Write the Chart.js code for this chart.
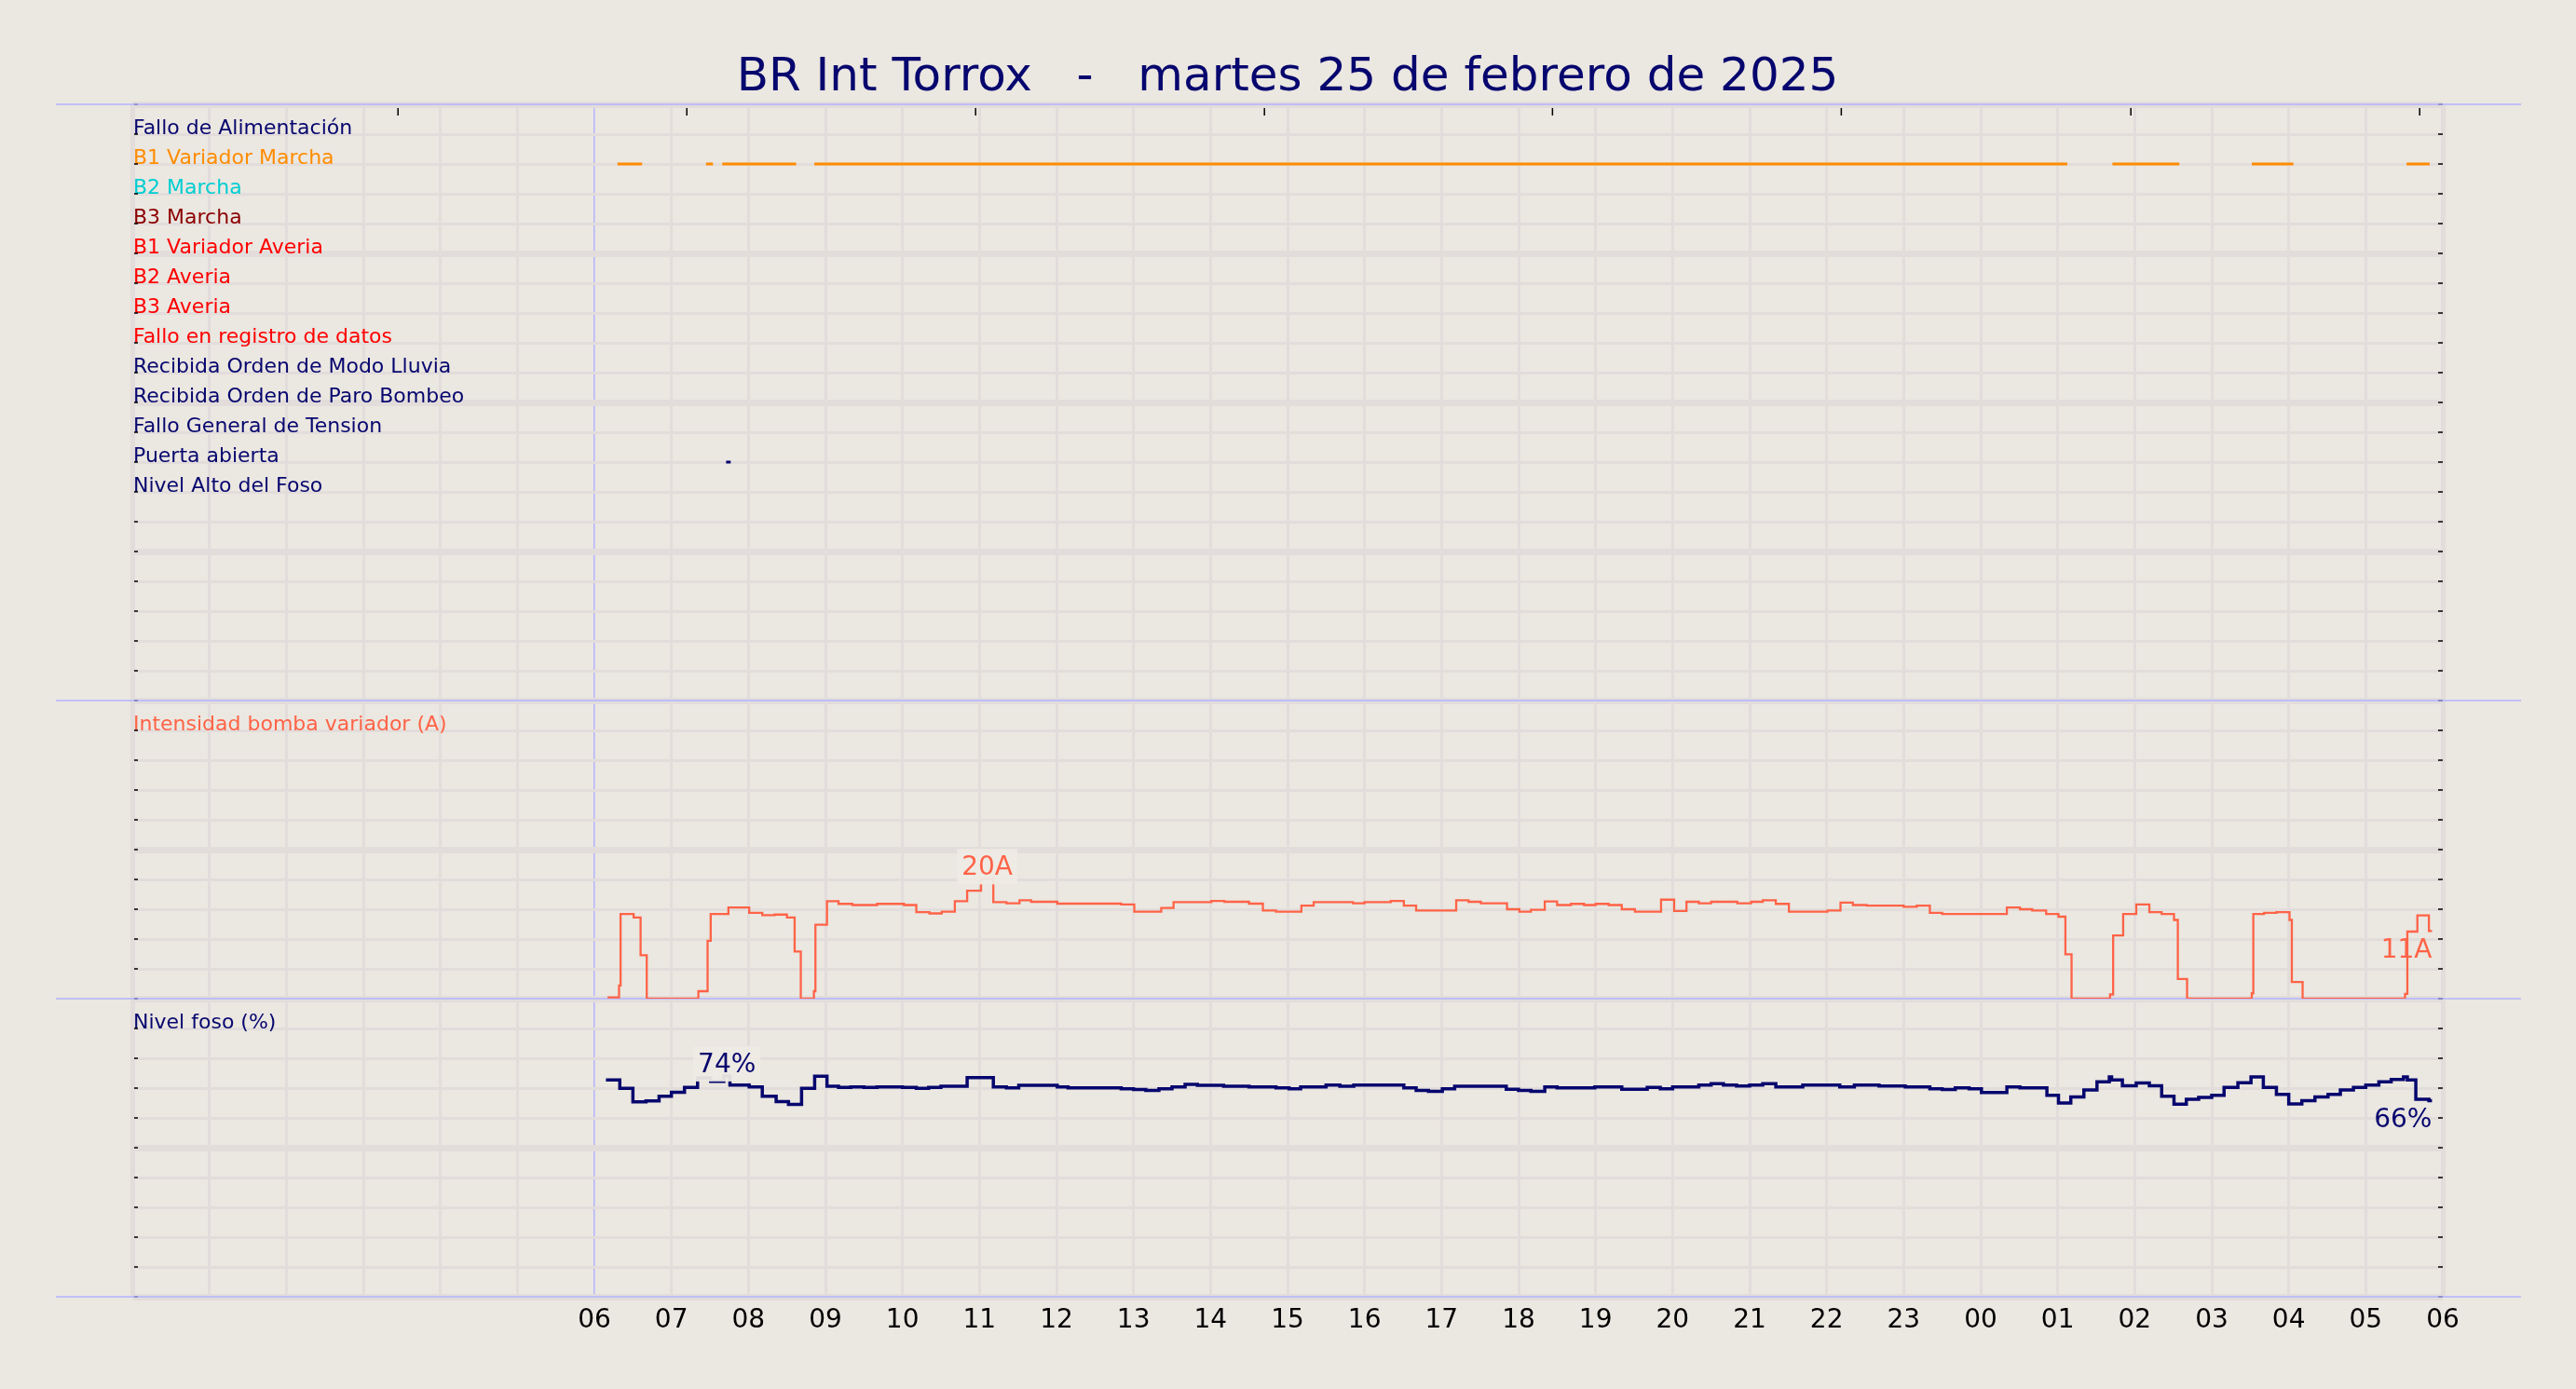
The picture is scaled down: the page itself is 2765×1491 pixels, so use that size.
<!DOCTYPE html>
<html>
<head>
<meta charset="utf-8">
<title>BR Int Torrox</title>
<script src="https://cdn.jsdelivr.net/npm/chart.js@4.4.1/dist/chart.umd.min.js"></script>
<style>
  html, body { margin: 0; padding: 0; background: #ebe7e1; }
  #grafico { display: block; }
</style>
</head>
<body>
<canvas id="grafico" width="2765" height="1491"></canvas>
<script>
const titulo = "BR Int Torrox   -   martes 25 de febrero de 2025";

// senales digitales (fila 0 arriba)
const senales = [
  "Fallo de Alimentación", "B1 Variador Marcha", "B2 Marcha", "B3 Marcha",
  "B1 Variador Averia", "B2 Averia", "B3 Averia", "Fallo en registro de datos",
  "Recibida Orden de Modo Lluvia", "Recibida Orden de Paro Bombeo",
  "Fallo General de Tension", "Puerta abierta", "Nivel Alto del Foso"
];
const coloresSenales = [
  "#06066e", "#ff8c00", "#00ced1", "#8b0000", "#ff0000", "#ff0000", "#ff0000",
  "#ff0000", "#06066e", "#06066e", "#06066e", "#06066e", "#06066e"
];

// horas desde las 00 del dia anterior (06 = 6, 06 siguiente = 30)
const b1VariadorMarcha = [[6.30, 6.62], [7.45, 7.54], [7.66, 8.62], [8.855, 25.125],
  [25.71, 26.58], [27.52, 28.06], [29.53, 29.83]];
const puertaAbierta = [[7.71, 7.77]];

const horasIntensidad = [6.17, 6.32, 6.34, 6.51, 6.60, 6.68, 7.35, 7.47, 7.51, 7.74, 8.01, 8.18, 8.34, 8.50,
  8.60, 8.68, 8.85, 8.87, 9.02, 9.17, 9.35, 9.67, 10.02, 10.18, 10.35, 10.51, 10.68, 10.84, 11.02,
  11.18, 11.35, 11.52, 11.67, 12.01, 12.84, 13.01, 13.36, 13.52, 14.01, 14.18, 14.50, 14.68, 14.85,
  15.18, 15.34, 15.85, 16.00, 16.34, 16.51, 16.67, 17.19, 17.35, 17.51, 17.85, 18.01, 18.16, 18.34,
  18.50, 18.68, 18.85, 19.00, 19.17, 19.34, 19.51, 19.85, 20.02, 20.18, 20.34, 20.50, 20.84, 21.02,
  21.17, 21.34, 21.51, 22.01, 22.18, 22.34, 22.52, 23.00, 23.17, 23.34, 23.50, 24.34, 24.51, 24.67,
  24.85, 25.01, 25.10, 25.18, 25.68, 25.72, 25.85, 26.02, 26.19, 26.35, 26.51, 26.56, 26.68, 27.52,
  27.54, 27.68, 27.84, 28.01, 28.04, 28.18, 29.51, 29.54, 29.67, 29.82, 29.86];
const intensidad = [0.2, 2.2, 14.2, 13.6, 7.3, 0, 1.25, 9.7, 14.2, 15.3, 14.4, 14.0, 14.1, 13.6,
  7.9, 0, 1.25, 12.4, 16.35, 15.9, 15.7, 15.9, 15.7, 14.5, 14.3, 14.6, 16.35, 18.1, 20.1,
  16.2, 16.0, 16.5, 16.25, 15.94, 15.8, 14.6, 15.2, 16.2, 16.4, 16.25, 15.94, 14.8, 14.6,
  15.6, 16.2, 16.0, 16.2, 16.4, 15.6, 14.8, 16.5, 16.25, 16.0, 15.0, 14.6, 14.9, 16.3,
  15.7, 15.9, 15.7, 15.9, 15.7, 15.0, 14.6, 16.6, 14.7, 16.25, 16.0, 16.25, 16.0, 16.25,
  16.5, 15.9, 14.6, 14.8, 16.1, 15.7, 15.6, 15.4, 15.6, 14.4, 14.2, 15.3, 15.0, 14.8,
  14.2, 13.75, 7.45, 0, 0.7, 10.6, 14.2, 15.8, 14.5, 14.2, 13.2, 3.3, 0, 0.9,
  14.2, 14.4, 14.5, 13.2, 2.8, 0, 0.8, 11.25, 13.96, 11.35, 11.35];

const horasNivel = [6.15, 6.33, 6.50, 6.67, 6.84, 7.00, 7.17, 7.34, 7.51, 7.68, 7.76, 8.01, 8.18, 8.36,
  8.52, 8.69, 8.86, 9.02, 9.17, 9.33, 9.50, 9.67, 10.00, 10.18, 10.34, 10.50, 10.84, 11.18, 11.35,
  11.51, 12.01, 12.15, 12.84, 13.00, 13.16, 13.33, 13.50, 13.67, 13.83, 14.17, 14.50, 14.85, 15.02,
  15.17, 15.50, 15.68, 15.86, 16.51, 16.67, 16.83, 17.01, 17.17, 17.84, 18.00, 18.16, 18.34, 18.50,
  18.99, 19.34, 19.67, 19.84, 20.00, 20.34, 20.50, 20.66, 20.83, 21.00, 21.17, 21.34, 21.69, 22.17,
  22.36, 22.68, 23.02, 23.34, 23.50, 23.67, 23.85, 24.01, 24.34, 24.51, 24.86, 25.01, 25.17, 25.34,
  25.51, 25.67, 25.70, 25.84, 26.02, 26.19, 26.35, 26.51, 26.67, 26.83, 27.00, 27.16, 27.34, 27.51,
  27.67, 27.84, 28.00, 28.17, 28.34, 28.51, 28.67, 28.84, 29.00, 29.17, 29.33, 29.49, 29.54, 29.65,
  29.82, 29.86];
const nivel = [72.7, 69.9, 65.4, 65.7, 67.3, 68.6, 70.2, 73.4, 72.3, 74.1, 71.0, 70.4, 67.3, 65.5,
  64.5, 69.9, 74.0, 70.6, 70.2, 70.4, 70.2, 70.4, 70.2, 69.9, 70.2, 70.6, 73.5, 70.4, 70.1,
  70.9, 70.4, 70.1, 69.8, 69.5, 69.2, 69.8, 70.4, 71.25, 70.9, 70.6, 70.4, 70.1, 69.8,
  70.4, 71.0, 70.6, 71.0, 70.1, 69.2, 68.9, 69.8, 70.6, 69.6, 69.2, 68.9, 70.4, 70.1,
  70.4, 69.6, 70.2, 69.8, 70.4, 71.0, 71.5, 71.0, 70.7, 71.0, 71.5, 70.4, 71.0, 70.4,
  71.0, 70.7, 70.4, 69.8, 69.5, 70.1, 69.8, 68.5, 70.4, 70.1, 67.6, 65.0, 67.0, 69.4,
  72.1, 73.75, 72.7, 70.8, 71.7, 70.8, 67.3, 64.6, 66.25, 66.9, 67.6, 70.2, 71.8, 73.75,
  70.2, 67.9, 64.7, 65.8, 67.0, 67.9, 69.4, 70.2, 71.0, 72.1, 72.9, 73.75, 72.7, 66.25,
  65.8, 65.8];

// marcas del eje superior (horas)
const marcasSuperiores = [3.45, 7.20, 10.95, 14.70, 18.44, 22.19, 25.95, 29.70];

const FONDO = "#ebe7e1";
const REJILLA = "#e2dddb";
const LAVANDA = "#b3b3ff";
const NAVY = "#06066e";
const TOMATE = "#ff6347";

Chart.defaults.font.family = "'DejaVu Sans', sans-serif";

function tramos(intervalos, fila) {
  const pts = [];
  intervalos.forEach(([a, b]) => {
    pts.push({x: a, y: fila}, {x: b, y: fila}, {x: b, y: null});
  });
  return pts;
}

function serie(horas, valores) {
  return horas.map((h, i) => ({x: h, y: valores[i]}));
}

function etiquetaMaximo(horas, valores) {
  let i = 0;
  valores.forEach((v, k) => { if (v > valores[i]) i = k; });
  return {x: (horas[i] + horas[i + 1]) / 2, y: valores[i]};
}

const anotaciones = [
  Object.assign(etiquetaMaximo(horasIntensidad, intensidad), {eje: "yA", tipo: "max", sufijo: "A", color: TOMATE}),
  Object.assign(etiquetaMaximo(horasNivel, nivel), {eje: "yN", tipo: "max", sufijo: "%", color: NAVY}),
  {x: horasIntensidad[horasIntensidad.length - 1], y: intensidad[intensidad.length - 1], eje: "yA", tipo: "fin", sufijo: "A", color: TOMATE},
  {x: horasNivel[horasNivel.length - 1], y: nivel[nivel.length - 1], eje: "yN", tipo: "fin", sufijo: "%", color: NAVY}
];

const decorado = {
  id: "decorado",
  beforeDatasetsDraw(chart) {
    const {ctx, chartArea: ca, scales} = chart;
    ctx.save();
    // marcas cortas izquierda / derecha
    ctx.strokeStyle = "#000";
    ctx.lineWidth = 1.5;
    ["yS", "yA", "yN"].forEach(id => {
      const s = scales[id];
      s.ticks.forEach(t => {
        const y = s.getPixelForValue(t.value);
        ctx.beginPath();
        ctx.moveTo(ca.left + 2, y); ctx.lineTo(ca.left + 6, y);
        ctx.moveTo(ca.right - 5, y); ctx.lineTo(ca.right, y);
        ctx.stroke();
      });
    });
    marcasSuperiores.forEach(h => {
      const x = scales.x.getPixelForValue(h);
      ctx.beginPath();
      ctx.moveTo(x, ca.top + 4); ctx.lineTo(x, ca.top + 12);
      ctx.stroke();
    });
    // separadores de paneles
    ctx.strokeStyle = LAVANDA;
    ctx.lineWidth = 1.5;
    [scales.yS.top, scales.yS.bottom, scales.yA.bottom, scales.yN.bottom].forEach(y => {
      ctx.beginPath();
      ctx.moveTo(ca.left - 82, y); ctx.lineTo(ca.right + 84, y);
      ctx.stroke();
    });
    ctx.restore();
  },
  afterDatasetsDraw(chart) {
    const {ctx, scales} = chart;
    ctx.save();
    ctx.font = "28px 'DejaVu Sans'";
    ctx.textBaseline = "alphabetic";
    anotaciones.forEach(a => {
      const x = scales.x.getPixelForValue(a.x);
      const y = scales[a.eje].getPixelForValue(a.y);
      const txt = Math.round(a.y) + a.sufijo;
      const w = ctx.measureText(txt).width;
      if (a.tipo === "max") {
        ctx.fillStyle = "rgba(238,234,228,0.95)";
        ctx.fillRect(x - w / 2 - 5, y - 4 - 28, w + 10, 38);
        ctx.fillStyle = a.color;
        ctx.textAlign = "center";
        ctx.fillText(txt, x, y - 4);
      } else {
        ctx.fillStyle = a.color;
        ctx.textAlign = "right";
        ctx.fillText(txt, x, y + 29);
      }
    });
    ctx.restore();
  }
};

const datasets = [
  {data: tramos(b1VariadorMarcha, 1), yAxisID: "yS", borderColor: coloresSenales[1], borderWidth: 3, spanGaps: false},
  {data: tramos(puertaAbierta, 11), yAxisID: "yS", borderColor: coloresSenales[11], borderWidth: 3, spanGaps: false},
  {data: serie(horasIntensidad, intensidad), yAxisID: "yA", borderColor: TOMATE, borderWidth: 2.3, stepped: true},
  {data: serie(horasNivel, nivel), yAxisID: "yN", borderColor: NAVY, borderWidth: 3.5, stepped: true}
];

function rejillaY(esMayor) {
  return {
    color: REJILLA,
    lineWidth: c => esMayor(c.tick.value) ? 7 : 3,
    drawTicks: false
  };
}

new Chart(document.getElementById("grafico"), {
  type: "line",
  data: {datasets: datasets},
  options: {
    responsive: false,
    animation: false,
    devicePixelRatio: 1,
    layout: {padding: {left: 142, right: 143, top: 0, bottom: 0}},
    elements: {point: {radius: 0}, line: {tension: 0, fill: false}},
    plugins: {
      legend: {display: false},
      tooltip: {enabled: false},
      title: {
        display: true,
        text: titulo,
        color: NAVY,
        font: {size: 50, weight: "normal", lineHeight: 1},
        padding: {top: 59, bottom: 3}
      }
    },
    scales: {
      x: {
        type: "linear",
        position: "bottom",
        min: 0,
        max: 30,
        ticks: {
          stepSize: 1,
          autoSkip: false,
          maxRotation: 0,
          padding: 9,
          color: "#000",
          font: {size: 28},
          callback: v => v >= 6 ? String(v % 24).padStart(2, "0") : ""
        },
        grid: {
          color: c => c.tick.value === 6 ? LAVANDA : REJILLA,
          lineWidth: c => c.tick.value === 6 ? 1.5 : (c.tick.value === 0 || c.tick.value === 30 ? 5 : 3),
          drawTicks: false
        },
        border: {display: false},
        afterFit: s => { s.height = 99; }
      },
      yS: {
        type: "linear",
        position: "left",
        stack: "paneles",
        stackWeight: 2,
        weight: 3,
        reverse: true,
        min: -1,
        max: 19,
        ticks: {
          stepSize: 1,
          autoSkip: false,
          mirror: true,
          padding: 1,
          labelOffset: -6,
          font: {size: 22},
          color: c => coloresSenales[c.tick.value] || "#000",
          callback: v => senales[v] || ""
        },
        grid: rejillaY(v => (v + 1) % 5 === 0),
        border: {display: false},
        afterFit: s => { s.width = 0; }
      },
      yA: {
        type: "linear",
        position: "left",
        stack: "paneles",
        stackWeight: 1,
        weight: 2,
        min: 0,
        max: 50,
        ticks: {
          stepSize: 5,
          autoSkip: false,
          mirror: true,
          padding: 1,
          labelOffset: -6,
          font: {size: 22},
          color: TOMATE,
          callback: v => v === 45 ? "Intensidad bomba variador (A)" : ""
        },
        grid: rejillaY(v => v % 25 === 0),
        border: {display: false},
        afterFit: s => { s.width = 0; }
      },
      yN: {
        type: "linear",
        position: "left",
        stack: "paneles",
        stackWeight: 1,
        weight: 1,
        min: 0,
        max: 100,
        ticks: {
          stepSize: 10,
          autoSkip: false,
          mirror: true,
          padding: 1,
          labelOffset: -6,
          font: {size: 22},
          color: NAVY,
          callback: v => v === 90 ? "Nivel foso (%)" : ""
        },
        grid: rejillaY(v => v % 50 === 0),
        border: {display: false},
        afterFit: s => { s.width = 0; }
      }
    }
  },
  plugins: [decorado]
});
</script>
</body>
</html>
